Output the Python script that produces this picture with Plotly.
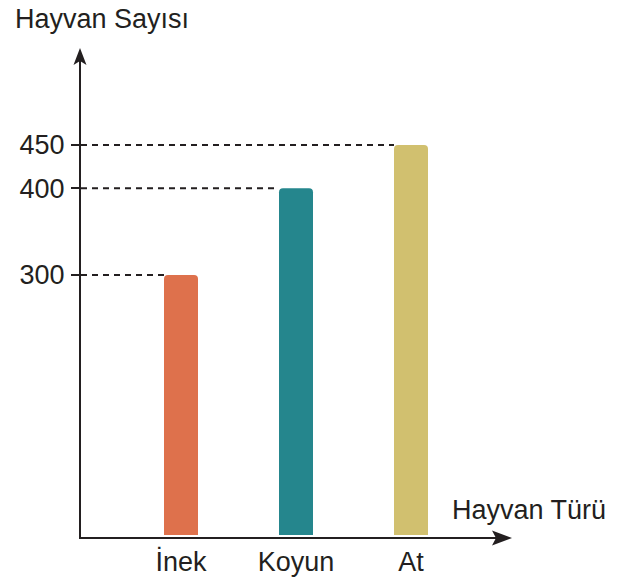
import plotly.graph_objects as go

# Data
categories = ["İnek", "Koyun", "At"]
counts = [300, 400, 450]
bar_colors = ["#DE714C", "#25868D", "#D1C06F"]
y_ticks = [300, 400, 450]

INK = "#231F20"
FONT = "Liberation Sans, Arial, sans-serif"
FS = 27
W, H = 627, 581

# Plot box in pixels and the scales used inside it
L, R, T, B = 81, 496, 61, 537
PX_PER_CAT = 115.0
PX_PER_UNIT = 0.8667
FIRST_CAT_PX = 181.0
BASE_PX = 535.0
BAR_W = 34 / PX_PER_CAT

x_range = [(L - FIRST_CAT_PX) / PX_PER_CAT, (R - FIRST_CAT_PX) / PX_PER_CAT]
y_range = [-(B - BASE_PX) / PX_PER_UNIT, (BASE_PX - T) / PX_PER_UNIT]
xpos = list(range(len(categories)))

fig = go.Figure(
    go.Bar(
        x=xpos,
        y=counts,
        width=BAR_W,
        marker=dict(color=bar_colors, line=dict(width=0), cornerradius=4),
        hoverinfo="skip",
    )
)

# Dashed guides from the vertical axis to each bar top
shapes = []
for xi, v in zip(xpos, counts):
    shapes.append(dict(
        type="line", xref="x", yref="y",
        x0=x_range[0], x1=xi - BAR_W / 2, y0=v, y1=v,
        line=dict(color=INK, width=2, dash="6px,5px"),
        layer="below",
    ))

# Arrowheads on both axes
shapes.append(dict(
    type="path", xref="paper", yref="paper",
    xsizemode="pixel", ysizemode="pixel", xanchor=0, yanchor=1,
    path="M-1,13 L5.5,-4 L-1,0 L-7.5,-4 Z",
    fillcolor=INK, line=dict(width=0),
))
shapes.append(dict(
    type="path", xref="paper", yref="paper",
    xsizemode="pixel", ysizemode="pixel", xanchor=1, yanchor=0,
    path="M16,-1 L-4,6.5 L0,-1 L-4,-8.5 Z",
    fillcolor=INK, line=dict(width=0),
))

annotations = [
    dict(text="Hayvan Sayısı", xref="paper", yref="paper", x=0, y=1,
         xanchor="left", yanchor="middle", xshift=13 - L, yshift=T - 18.5,
         showarrow=False, font=dict(family=FONT, size=FS, color=INK)),
    dict(text="Hayvan Türü", xref="paper", yref="paper", x=1, y=0,
         xanchor="right", yanchor="middle", xshift=608 - R, yshift=B - 509.5,
         showarrow=False, font=dict(family=FONT, size=FS, color=INK)),
]

fig.update_layout(
    width=W, height=H,
    margin=dict(l=L, r=W - R, t=T, b=H - B, pad=0, autoexpand=False),
    paper_bgcolor="white", plot_bgcolor="white",
    showlegend=False,
    shapes=shapes,
    annotations=annotations,
    font=dict(family=FONT, size=FS, color=INK),
    xaxis=dict(
        range=x_range, tickvals=xpos, ticktext=categories,
        showgrid=False, zeroline=False, showline=True,
        linecolor=INK, linewidth=2, ticks="", fixedrange=True,
        ticklabelstandoff=0, automargin=False,
    ),
    yaxis=dict(
        range=y_range, tickvals=y_ticks,
        showgrid=False, zeroline=False, showline=True,
        linecolor=INK, linewidth=2, ticks="outside", ticklen=8,
        tickwidth=2, tickcolor=INK, fixedrange=True,
        ticklabelstandoff=1, automargin=False,
    ),
)

fig.write_html("out.html")
